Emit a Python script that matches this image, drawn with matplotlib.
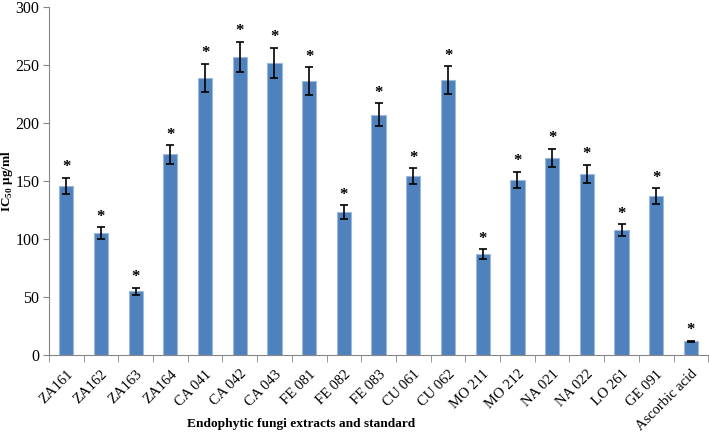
import matplotlib
matplotlib.use("Agg")
import matplotlib.pyplot as plt
import numpy as np

categories = ["ZA161", "ZA162", "ZA163", "ZA164", "CA 041", "CA 042", "CA 043",
              "FE 081", "FE 082", "FE 083", "CU 061", "CU 062", "MO 211", "MO 212",
              "NA 021", "NA 022", "LO 261", "GE 091", "Ascorbic acid"]
values = [146, 105, 55, 173, 239, 257, 252, 236, 123, 207, 154, 237, 87, 151,
          170, 156, 108, 137, 12]
errors = [7, 5, 3, 8, 12, 13, 13, 12, 6, 10, 7, 12, 4, 7, 8, 8, 5, 7, 0.5]

plt.rcParams['font.family'] = ['Liberation Serif', 'DejaVu Serif']
plt.rcParams['mathtext.fontset'] = 'custom'
plt.rcParams['mathtext.rm'] = 'Liberation Serif'
plt.rcParams['mathtext.bf'] = 'Liberation Serif:bold'

fig = plt.figure(figsize=(7.09, 4.32), dpi=100)
ax = fig.add_axes([0.069, 0.178, 0.93, 0.806])

x = np.arange(len(categories))
ax.bar(x, values, width=0.41, color='#4F81BD', edgecolor='#9DB9DE', linewidth=0.8,
       yerr=errors, error_kw=dict(ecolor='black', elinewidth=1.2, capsize=3, capthick=1.2))
for xi, v, e in zip(x, values, errors):
    ax.text(xi, v + e + 2, "*", ha='center', va='bottom', fontsize=12, fontweight='bold')

ax.set_xlim(-0.5, len(categories) - 0.5)
ax.set_ylim(0, 300)
ax.set_yticks(np.arange(0, 301, 50))
ax.set_xticks(x)
ax.set_xticklabels(categories, rotation=45, ha='right', rotation_mode='anchor', fontsize=10.5)
ax.set_xticks(np.arange(-0.5, len(categories), 1), minor=True)
ax.tick_params(axis='x', which='major', length=0, pad=9)
ax.tick_params(axis='x', which='minor', length=5, color='#868686', direction='out')
ax.tick_params(axis='y', length=4, color='#868686', labelsize=11.5, pad=3)

for s in ['top', 'right']:
    ax.spines[s].set_visible(False)
for s in ['left', 'bottom']:
    ax.spines[s].set_color('#868686')

ax.set_ylabel(r"IC$_{\mathbf{50}}$ μg/ml", fontweight='bold', fontsize=9.5)
ax.yaxis.set_label_coords(-0.052, 0.5)
fig.text(301 / 709, 1 - 424 / 432, "Endophytic fungi extracts and standard",
         fontweight='bold', fontsize=9.6, ha='center', va='center')

fig.savefig("out.png", dpi=100)
